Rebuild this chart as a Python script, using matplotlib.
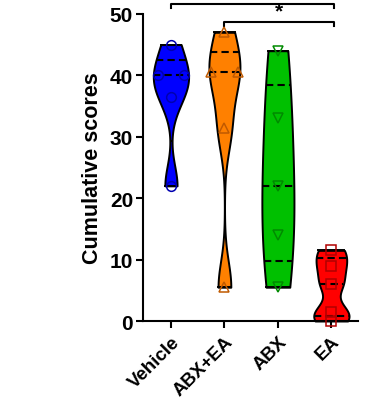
import numpy as np
import matplotlib.pyplot as plt

plt.rcParams['font.family'] = ['Liberation Sans', 'DejaVu Sans']
plt.rcParams['font.weight'] = 'bold'

# --- DATA ---
groups = ['Vehicle', 'ABX+EA', 'ABX', 'EA']
vehicle = [45, 40, 40, 36.5, 22]
abx_ea = [47, 40.5, 40.5, 31.5, 5.5]
abx = [44, 33, 22, 14, 5.5]
ea = [11.5, 9, 6, 1.5, 0]
all_data = [vehicle, abx_ea, abx, ea]

# --- STYLE ---
fills = ['#0000ff', '#ff8000', '#00c000', '#ff0000']
marker_edges = ['#0000b0', '#c05a00', '#008a00', '#b00000']
markers = ['o', '^', 'v', 's']
bandwidths = [3.3, 4.2, 11.0, 1.7]
half_widths = [0.33, 0.29, 0.30, 0.33]


def kde(y, vals, bw):
    d = np.zeros_like(y)
    for v in vals:
        d += np.exp(-0.5 * ((y - v) / bw) ** 2)
    return d


fig = plt.figure(figsize=(3.75, 4.02), dpi=100)
ax = fig.add_axes([0.381, 0.199, 0.574, 0.764])

for i, vals in enumerate(all_data):
    vals = np.array(vals, dtype=float)
    y = np.linspace(vals.min(), vals.max(), 400)
    dens = kde(y, vals, bandwidths[i])
    scale = half_widths[i] / dens.max()
    w = dens * scale
    ax.fill_betweenx(y, i - w, i + w, facecolor=fills[i], edgecolor='black',
                     linewidth=1.4, zorder=2, clip_on=False)
    # flat ends
    for yy, ww in [(y[0], w[0]), (y[-1], w[-1])]:
        ax.plot([i - ww, i + ww], [yy, yy], color='black', lw=1.4, zorder=3,
                clip_on=False)
    # median and quartiles
    for q in np.percentile(vals, [25, 50, 75], method='weibull'):
        qw = kde(np.array([q]), vals, bandwidths[i])[0] * scale
        ax.plot([i - qw, i + qw], [q, q], color='black', lw=1.5,
                ls=(0, (3.5, 2.0)), zorder=3)
    # points, spread duplicates
    xs = np.full(len(vals), float(i))
    for v in np.unique(vals):
        idx = np.where(vals == v)[0]
        if len(idx) > 1:
            xs[idx] = i + np.linspace(-0.25, 0.25, len(idx))
    ax.plot(xs, vals, ls='none', marker=markers[i], ms=7, mfc='none',
            mec=marker_edges[i], mew=1.1, zorder=4, clip_on=False)

ax.set_xlim(-0.525, 3.5)
ax.set_ylim(0, 50)
ax.set_yticks([0, 10, 20, 30, 40, 50])
ax.set_xticks(range(len(groups)))
ax.set_xticklabels(groups, rotation=45, ha='right', rotation_mode='anchor',
                   fontsize=13.5, fontweight='bold')
ax.tick_params(axis='y', labelsize=15, width=1.5, length=5, pad=2)
ax.tick_params(axis='x', width=1.5, length=5)
for lab in ax.get_yticklabels():
    lab.set_fontweight('bold')
ax.set_ylabel('Cumulative scores', fontsize=15.5, fontweight='bold', labelpad=5)
for s in ['top', 'right']:
    ax.spines[s].set_visible(False)
for s in ['left', 'bottom']:
    ax.spines[s].set_linewidth(1.5)

# significance brackets
def bracket(x1, x2, y, drop, text):
    ax.plot([x1, x1, x2, x2], [y - drop, y, y, y - drop], color='black',
            lw=1.5, clip_on=False)
    ax.text((x1 + x2) / 2, y + 0.2, text, ha='center', va='bottom',
            fontsize=15, fontweight='bold', clip_on=False)

bracket(0, 3.05, 51.6, 0.6, '**')
bracket(1.0, 3.05, 48.7, 0.6, '*')

fig.savefig('out.png', dpi=100)
